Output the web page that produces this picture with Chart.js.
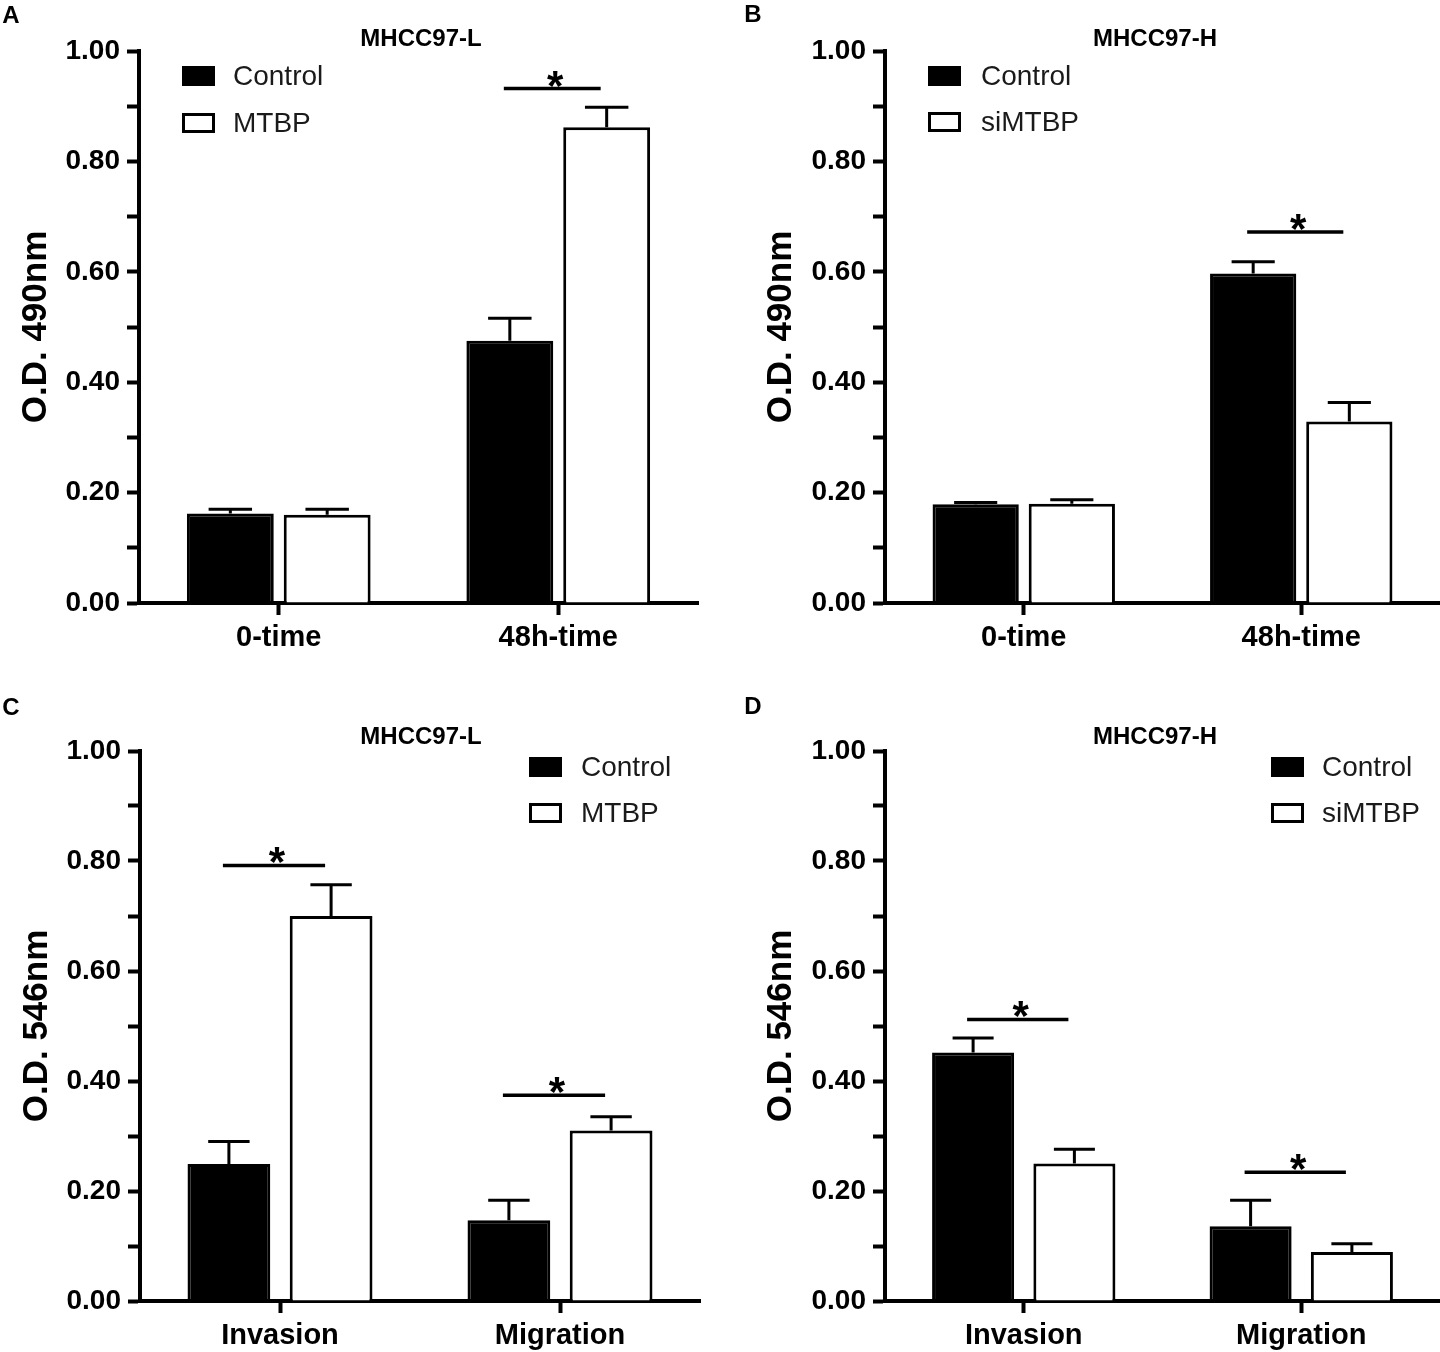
<!DOCTYPE html>
<html>
<head>
<meta charset="utf-8">
<script src="https://cdn.jsdelivr.net/npm/chart.js@4.4.1/dist/chart.umd.min.js"></script>
<style>
  body { margin: 0; background: #fff; overflow: hidden; width: 1440px; height: 1352px; position: relative; }
  canvas { position: absolute; }
</style>
</head>
<body>
<canvas id="panelA" width="720" height="673" style="left:0;top:0"></canvas>
<canvas id="panelB" width="720" height="673" style="left:720px;top:0"></canvas>
<canvas id="panelC" width="720" height="662" style="left:0;top:690px"></canvas>
<canvas id="panelD" width="720" height="662" style="left:720px;top:690px"></canvas>
<script>
// --- data ---
const timeCats = ['0-time', '48h-time'];
const assayCats = ['Invasion', 'Migration'];
const yTicks = [0, 0.1, 0.2, 0.3, 0.4, 0.5, 0.6, 0.7, 0.8, 0.9, 1.0];

// A: MHCC97-L, O.D. 490nm
const aControl = [0.162, 0.475];
const aControlErr = [0.008, 0.041];
const aMTBP = [0.160, 0.862];
const aMTBPErr = [0.010, 0.036];
const aSig = [null, 0.932];

// B: MHCC97-H, O.D. 490nm
const bControl = [0.179, 0.597];
const bControlErr = [0.003, 0.021];
const bSiMTBP = [0.180, 0.329];
const bSiMTBPErr = [0.007, 0.034];
const bSig = [null, 0.672];

// C: MHCC97-L, O.D. 546nm
const cControl = [0.249, 0.147];
const cControlErr = [0.041, 0.036];
const cMTBP = [0.700, 0.310];
const cMTBPErr = [0.057, 0.025];
const cSig = [0.792, 0.374];

// D: MHCC97-H, O.D. 546nm
const dControl = [0.452, 0.136];
const dControlErr = [0.026, 0.047];
const dSiMTBP = [0.250, 0.089];
const dSiMTBPErr = [0.026, 0.015];
const dSig = [0.512, 0.234];

const SANS = '"Liberation Sans", Arial, sans-serif';

// error bars (upper only), significance lines, legend and headings
const decorPlugin = {
  id: 'decor',
  afterDatasetsDraw(chart) {
    const ctx = chart.ctx;
    const y = chart.scales.y;
    ctx.save();
    ctx.strokeStyle = '#000';
    ctx.lineWidth = 3;
    chart.data.datasets.forEach((ds, di) => {
      const meta = chart.getDatasetMeta(di);
      meta.data.forEach((bar, i) => {
        const top = y.getPixelForValue(ds.data[i] + ds.errors[i]);
        const half = bar.width * 0.25;
        ctx.beginPath();
        ctx.moveTo(bar.x, bar.y);
        ctx.lineTo(bar.x, top);
        ctx.moveTo(bar.x - half, top);
        ctx.lineTo(bar.x + half, top);
        ctx.stroke();
      });
    });
    // significance
    const cfg = chart.options.plugins.decor;
    const m0 = chart.getDatasetMeta(0), m1 = chart.getDatasetMeta(1);
    cfg.sig.forEach((v, i) => {
      if (v === null) return;
      const yy = y.getPixelForValue(v);
      const x1 = m0.data[i].x - 6, x2 = m1.data[i].x - 6;
      ctx.lineWidth = 3.5;
      ctx.beginPath();
      ctx.moveTo(x1, yy);
      ctx.lineTo(x2, yy);
      ctx.stroke();
      ctx.fillStyle = '#000';
      ctx.font = 'bold 42px ' + SANS;
      ctx.textAlign = 'center';
      ctx.textBaseline = 'alphabetic';
      ctx.fillText('*', (x1 + x2) / 2 + 3, yy + 11);
    });
    ctx.restore();
  },
  afterDraw(chart) {
    const ctx = chart.ctx;
    const cfg = chart.options.plugins.decor;
    ctx.save();
    ctx.fillStyle = '#000';
    ctx.textBaseline = 'middle';
    ctx.textAlign = 'center';
    ctx.font = 'bold 24px ' + SANS;
    ctx.fillText(cfg.letter, cfg.letterX, cfg.letterY);
    ctx.font = 'bold 24px ' + SANS;
    ctx.fillText(cfg.title, cfg.titleX, cfg.titleY);
    // legend
    ctx.textAlign = 'left';
    ctx.font = '28px ' + SANS;
    chart.data.datasets.forEach((ds, di) => {
      const cy = cfg.legendY[di];
      ctx.fillStyle = ds.backgroundColor;
      ctx.fillRect(cfg.legendX, cy - 10, 33, 20);
      ctx.strokeStyle = '#000';
      ctx.lineWidth = 3;
      ctx.strokeRect(cfg.legendX + 1.5, cy - 8.5, 30, 17);
      ctx.fillStyle = '#1a1a1a';
      ctx.fillText(ds.label, cfg.textX, cy + 1);
    });
    ctx.restore();
  }
};

function makePanel(id, opts) {
  return new Chart(document.getElementById(id), {
    type: 'bar',
    data: {
      labels: opts.labels,
      datasets: [
        { label: 'Control', data: opts.control, errors: opts.controlErr,
          backgroundColor: '#000', borderColor: '#000', borderWidth: 3 },
        { label: opts.treatName, data: opts.treat, errors: opts.treatErr,
          backgroundColor: '#fff', borderColor: '#000', borderWidth: 3 }
      ]
    },
    options: {
      responsive: false,
      animation: false,
      devicePixelRatio: 1,
      categoryPercentage: opts.catPct,
      barPercentage: opts.barPct,
      layout: { padding: { top: opts.padTop, right: opts.padRight, left: 0, bottom: 0 } },
      plugins: {
        legend: { display: false },
        tooltip: { enabled: false },
        decor: {
          sig: opts.sig, letter: opts.letter, letterX: opts.letterX, letterY: opts.letterY,
          title: opts.title, titleX: opts.titleX, titleY: opts.titleY,
          legendX: opts.legendX, textX: opts.textX, legendY: opts.legendY
        }
      },
      scales: {
        x: {
          type: 'category',
          offset: true,
          grid: { display: true, offset: false, drawOnChartArea: false, drawTicks: true,
                  tickLength: 12, tickWidth: 4, color: '#000' },
          border: { display: true, color: '#000', width: 4 },
          ticks: { color: '#000', font: { family: SANS, size: 29, weight: 'bold' },
                   padding: 6, maxRotation: 0 },
          afterFit: s => { s.height = opts.xHeight; }
        },
        y: {
          min: 0,
          max: 1,
          afterBuildTicks: s => { s.ticks = yTicks.map(v => ({ value: v })); },
          ticks: { color: '#000', font: { family: SANS, size: 28, weight: 'bold' }, padding: 7,
                   autoSkip: false,
                   callback: (v, i) => (i % 2 === 0 ? Number(v).toFixed(2) : '') },
          grid: { display: true, drawOnChartArea: false, drawTicks: true,
                  tickLength: 12, tickWidth: 4, color: '#000' },
          border: { display: true, color: '#000', width: 4 },
          title: { display: true, text: opts.yTitle, color: '#000',
                   font: { family: SANS, size: 35, weight: 'bold', lineHeight: 1 },
                   padding: { top: opts.yTitlePad, bottom: 0 } },
          afterFit: s => { s.width = opts.yWidth; }
        }
      }
    },
    plugins: [decorPlugin]
  });
}

makePanel('panelA', {
  labels: timeCats, control: aControl, controlErr: aControlErr,
  treat: aMTBP, treatErr: aMTBPErr, treatName: 'MTBP', sig: aSig,
  catPct: 0.693, barPct: 0.897, padTop: 51, padRight: 22, yWidth: 139, xHeight: 70,
  yTitle: 'O.D. 490nm', yTitlePad: 19,
  letter: 'A', letterX: 11, letterY: 16, title: 'MHCC97-L', titleX: 421, titleY: 39,
  legendX: 182, textX: 233, legendY: [76, 123]
});

makePanel('panelB', {
  labels: timeCats, control: bControl, controlErr: bControlErr,
  treat: bSiMTBP, treatErr: bSiMTBPErr, treatName: 'siMTBP', sig: bSig,
  catPct: 0.693, barPct: 0.897, padTop: 51, padRight: 0, yWidth: 165, xHeight: 70,
  yTitle: 'O.D. 490nm', yTitlePad: 44,
  letter: 'B', letterX: 33, letterY: 15, title: 'MHCC97-H', titleX: 435, titleY: 39,
  legendX: 208, textX: 261, legendY: [76, 122]
});

makePanel('panelC', {
  labels: assayCats, control: cControl, controlErr: cControlErr,
  treat: cMTBP, treatErr: cMTBPErr, treatName: 'MTBP', sig: cSig,
  catPct: 0.73, barPct: 0.81, padTop: 61, padRight: 20, yWidth: 140, xHeight: 51,
  yTitle: 'O.D. 546nm', yTitlePad: 20,
  letter: 'C', letterX: 11, letterY: 18, title: 'MHCC97-L', titleX: 421, titleY: 47,
  legendX: 529, textX: 581, legendY: [77, 123]
});

makePanel('panelD', {
  labels: assayCats, control: dControl, controlErr: dControlErr,
  treat: dSiMTBP, treatErr: dSiMTBPErr, treatName: 'siMTBP', sig: dSig,
  catPct: 0.73, barPct: 0.81, padTop: 61, padRight: 0, yWidth: 165, xHeight: 51,
  yTitle: 'O.D. 546nm', yTitlePad: 44,
  letter: 'D', letterX: 33, letterY: 17, title: 'MHCC97-H', titleX: 435, titleY: 47,
  legendX: 551, textX: 602, legendY: [77, 123]
});
</script>
</body>
</html>
